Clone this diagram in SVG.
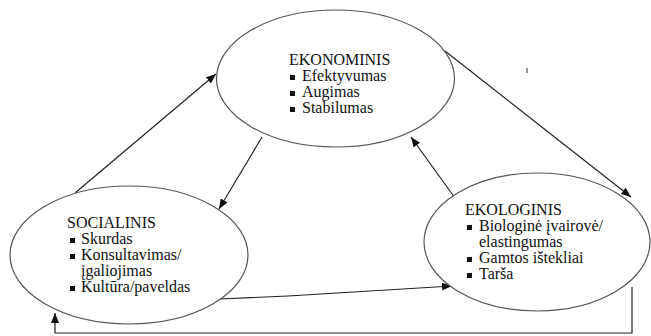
<svg xmlns="http://www.w3.org/2000/svg" width="651" height="336" viewBox="0 0 651 336">
  <style>
    .node ellipse { fill: #ffffff; stroke: #555555; stroke-width: 1.2; }
    .node text { font-family: "Liberation Serif", "Times New Roman", serif; font-size: 16px; fill: #111111; }
    .bullet { fill: #111111; }
    .edge { fill: none; stroke: #222222; stroke-width: 1.2; }
  </style>
  <defs>
    <marker id="arrow" viewBox="0 0 10 8" refX="10" refY="4" markerWidth="10" markerHeight="8" markerUnits="userSpaceOnUse" orient="auto">
      <path d="M0,0 L10,4 L0,8 Z" fill="#111111"/>
    </marker>
  </defs>
  <rect width="651" height="336" fill="#ffffff"/>

  <!-- Connectors -->
  <g id="connectors">
    <line class="edge" x1="75" y1="193" x2="216" y2="74" marker-end="url(#arrow)"/>
    <line class="edge" x1="262" y1="137" x2="219" y2="209" marker-end="url(#arrow)"/>
    <line class="edge" x1="455" y1="198" x2="411" y2="137" marker-end="url(#arrow)"/>
    <line class="edge" x1="445" y1="51" x2="631" y2="197" marker-end="url(#arrow)"/>
    <polyline class="edge" points="220,299 288,296 452,286" marker-end="url(#arrow)"/>
    <polyline class="edge" points="632,287 632,333 55,333 55,313" marker-end="url(#arrow)"/>
  </g>

  <!-- Economic -->
  <g id="node-ekonominis" class="node">
    <ellipse cx="335.5" cy="78.5" rx="119" ry="68.5"/>
    <text x="289" y="65">EKONOMINIS</text>
    <rect class="bullet" x="290" y="75" width="5" height="5"/>
    <text x="302" y="81">Efektyvumas</text>
    <rect class="bullet" x="290" y="91" width="5" height="5"/>
    <text x="302" y="97">Augimas</text>
    <rect class="bullet" x="290" y="107" width="5" height="5"/>
    <text x="302" y="113">Stabilumas</text>
  </g>

  <!-- Social -->
  <g id="node-socialinis" class="node">
    <ellipse cx="129" cy="255" rx="119" ry="69"/>
    <text x="67" y="228">SOCIALINIS</text>
    <rect class="bullet" x="70" y="238" width="5" height="5"/>
    <text x="81" y="244">Skurdas</text>
    <rect class="bullet" x="70" y="254" width="5" height="5"/>
    <text x="81" y="260">Konsultavimas/</text>
    <text x="81" y="276">įgaliojimas</text>
    <rect class="bullet" x="70" y="286" width="5" height="5"/>
    <text x="81" y="292">Kultūra/paveldas</text>
  </g>

  <!-- Ecological -->
  <g id="node-ekologinis" class="node">
    <ellipse cx="537" cy="242" rx="113" ry="69"/>
    <text x="465" y="215">EKOLOGINIS</text>
    <rect class="bullet" x="467" y="225" width="5" height="5"/>
    <text x="479" y="231">Biologinė įvairovė/</text>
    <text x="479" y="247">elastingumas</text>
    <rect class="bullet" x="467" y="257" width="5" height="5"/>
    <text x="479" y="263">Gamtos ištekliai</text>
    <rect class="bullet" x="467" y="273" width="5" height="5"/>
    <text x="479" y="279">Tarša</text>
  </g>

  <!-- small stray tick -->
  <line x1="527" y1="68" x2="527" y2="73" stroke="#333333" stroke-width="1"/>
</svg>
